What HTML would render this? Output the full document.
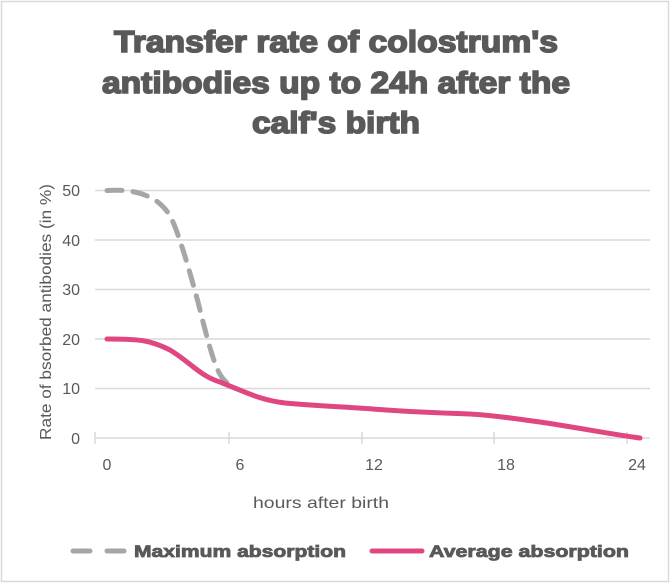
<!DOCTYPE html>
<html><head><meta charset="utf-8"><style>
html,body{margin:0;padding:0;background:#fff;}
svg{display:block;font-family:"Liberation Sans",sans-serif;}
</style></head><body>
<svg width="670" height="583" viewBox="0 0 670 583">
<rect x="1.5" y="1.5" width="667" height="580" fill="#fff" stroke="#d9d9d9" stroke-width="1.5"/>
<g font-weight="bold" font-size="31" fill="#595959" stroke="#595959" stroke-width="1.6" text-anchor="middle">
<text x="336" y="52" textLength="444" lengthAdjust="spacingAndGlyphs">Transfer rate of colostrum's</text>
<text x="336" y="93" textLength="468" lengthAdjust="spacingAndGlyphs">antibodies up to 24h after the</text>
<text x="336" y="133" textLength="168" lengthAdjust="spacingAndGlyphs">calf's birth</text>
</g>
<g stroke="#d9d9d9" stroke-width="1.5">
<line x1="95" y1="190.5" x2="650" y2="190.5"/>
<line x1="95" y1="240" x2="650" y2="240"/>
<line x1="95" y1="289.5" x2="650" y2="289.5"/>
<line x1="95" y1="339" x2="650" y2="339"/>
<line x1="95" y1="388.5" x2="650" y2="388.5"/>
<line x1="95" y1="438" x2="650" y2="438"/>
<line x1="95" y1="432" x2="95" y2="444"/>
<line x1="229" y1="432" x2="229" y2="444"/>
<line x1="362" y1="432" x2="362" y2="444"/>
<line x1="494" y1="432" x2="494" y2="444"/>
<line x1="627" y1="432" x2="627" y2="444"/>
</g>
<g font-size="16" fill="#595959" text-anchor="end">
<text x="80" y="196">50</text><text x="80" y="246">40</text><text x="80" y="295">30</text>
<text x="80" y="345">20</text><text x="80" y="394">10</text><text x="80" y="444">0</text>
</g>
<g font-size="16" fill="#595959" text-anchor="middle">
<text x="107" y="470">0</text><text x="240" y="470">6</text><text x="374" y="470">12</text>
<text x="506" y="470">18</text><text x="637" y="470">24</text>
<text x="321" y="508" textLength="136" lengthAdjust="spacingAndGlyphs">hours after birth</text>
<text transform="translate(51,312) rotate(-90)" textLength="256" lengthAdjust="spacingAndGlyphs">Rate of bsorbed antibodies (in %)</text>
</g>
<path d="M107,190.5 C125,189.5 140,191 155,200 C168,209 172,218 178,235 C186,258 192,280 198,302 C205,330 210,350 216,366 C220,376 224,381 230,385" fill="none" stroke="#a6a6a6" stroke-width="5" stroke-dasharray="15,11" stroke-linecap="round"/>
<path d="M107,339 C140,339 150,340 170,350 C190,362 200,376 220,382 C245,392 260,400 285,403 C320,406 345,407 373,409 C410,412 440,413 470,414 C500,416 510,418 540,422 C580,428 610,434 640,438" fill="none" stroke="#e0467f" stroke-width="5" stroke-linecap="round"/>
<line x1="73" y1="551" x2="90" y2="551" stroke="#a6a6a6" stroke-width="5" stroke-linecap="round"/>
<line x1="107" y1="551" x2="124" y2="551" stroke="#a6a6a6" stroke-width="5" stroke-linecap="round"/>
<line x1="372" y1="551" x2="422" y2="551" stroke="#e0467f" stroke-width="5" stroke-linecap="round"/>
<g font-weight="bold" font-size="17" fill="#595959" stroke="#595959" stroke-width="0.8">
<text x="134" y="557" textLength="212" lengthAdjust="spacingAndGlyphs">Maximum absorption</text>
<text x="429" y="557" textLength="200" lengthAdjust="spacingAndGlyphs">Average absorption</text>
</g>
</svg>
</body></html>
